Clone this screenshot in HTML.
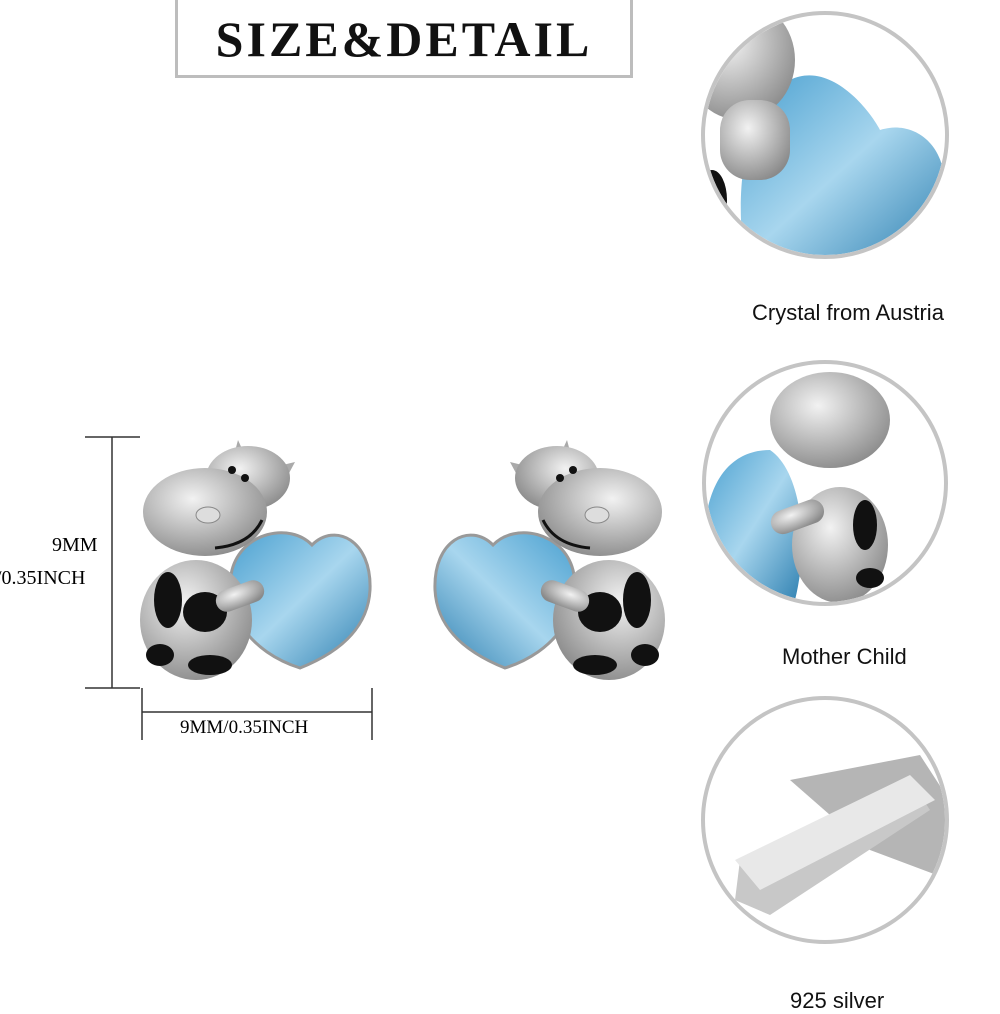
<!DOCTYPE html>
<html><head><style>
body{margin:0;width:1000px;height:1000px;background:#fff;overflow:hidden;position:relative;font-family:"Liberation Sans",sans-serif}
.t{position:absolute;white-space:nowrap}
</style></head><body>
<div style="position:absolute;left:175px;top:-3px;width:458px;height:81px;border:3px solid #bdbdbd;box-sizing:border-box"></div>
<div class="t" style="left:175px;width:458px;top:10px;text-align:center;font-family:'Liberation Serif',serif;font-size:50px;font-weight:bold;letter-spacing:3px;color:#111">SIZE&amp;DETAIL</div>
<svg width="1000" height="1000" style="position:absolute;left:0;top:0">
<defs>
<radialGradient id="g" cx="40%" cy="35%" r="70%"><stop offset="0" stop-color="#f2f2f2"/><stop offset="1" stop-color="#8a8a8a"/></radialGradient>
<linearGradient id="b" x1="0" y1="0" x2="1" y2="1"><stop offset="0" stop-color="#4aa0d0"/><stop offset=".5" stop-color="#a8d6ee"/><stop offset="1" stop-color="#2d7fb0"/></linearGradient>
<clipPath id="c1"><circle cx="825" cy="135" r="120"/></clipPath>
<clipPath id="c2"><circle cx="825" cy="483" r="119"/></clipPath>
<clipPath id="c3"><circle cx="825" cy="820" r="120"/></clipPath>
<g id="cow">
<path d="M300,668 C250,652 222,612 232,570 C242,532 290,522 312,545 C335,522 372,540 370,590 C368,628 340,652 300,668 Z" fill="url(#b)" stroke="#999" stroke-width="3"/>
<ellipse cx="196" cy="620" rx="56" ry="60" fill="url(#g)"/>
<ellipse cx="168" cy="600" rx="14" ry="28" fill="#111"/>
<ellipse cx="205" cy="612" rx="22" ry="20" fill="#111"/>
<ellipse cx="210" cy="665" rx="22" ry="10" fill="#111"/>
<ellipse cx="160" cy="655" rx="14" ry="11" fill="#111"/>
<path d="M230,470 L238,440 L248,462 Z M262,470 L295,462 L280,490 Z" fill="#aaa"/>
<ellipse cx="248" cy="478" rx="42" ry="32" fill="url(#g)"/>
<ellipse cx="205" cy="512" rx="62" ry="44" fill="url(#g)"/>
<circle cx="232" cy="470" r="4" fill="#111"/><circle cx="245" cy="478" r="4" fill="#111"/>
<path d="M215,548 Q250,545 262,520" stroke="#111" stroke-width="3" fill="none"/>
<ellipse cx="208" cy="515" rx="12" ry="8" fill="#ddd" stroke="#888"/>
<rect x="215" y="585" width="50" height="22" rx="11" fill="url(#g)" transform="rotate(-20 240 596)"/>
</g>
</defs>
<use href="#cow"/>
<use href="#cow" transform="translate(805,0) scale(-1,1)"/>
<g stroke="#333" stroke-width="1.5">
<line x1="112" y1="437" x2="112" y2="688"/><line x1="85" y1="437" x2="140" y2="437"/><line x1="85" y1="688" x2="140" y2="688"/>
<line x1="142" y1="712" x2="372" y2="712"/><line x1="142" y1="688" x2="142" y2="740"/><line x1="372" y1="688" x2="372" y2="740"/>
</g>
<g clip-path="url(#c1)">
<path d="M745,260 C735,200 740,110 790,80 C830,60 870,110 880,130 C910,120 950,140 945,200 C930,240 850,270 745,260Z" fill="url(#b)"/>
<ellipse cx="740" cy="60" rx="55" ry="60" fill="url(#g)"/>
<rect x="720" y="100" width="70" height="80" rx="30" fill="url(#g)"/>
<ellipse cx="712" cy="200" rx="15" ry="30" fill="#111"/>
</g>
<g clip-path="url(#c2)">
<path d="M705,560 C700,500 720,450 770,450 C800,470 810,540 795,600 C760,610 715,600 705,560Z" fill="url(#b)"/>
<ellipse cx="830" cy="420" rx="60" ry="48" fill="url(#g)"/>
<ellipse cx="840" cy="545" rx="48" ry="58" fill="url(#g)"/>
<rect x="770" y="505" width="55" height="24" rx="12" fill="url(#g)" transform="rotate(-20 797 517)"/>
<ellipse cx="865" cy="525" rx="12" ry="25" fill="#111"/><ellipse cx="870" cy="578" rx="14" ry="10" fill="#111"/>
</g>
<g clip-path="url(#c3)">
<path d="M790,780 L920,755 L975,840 L950,880 L870,850 Z" fill="#b5b5b5"/>
<path d="M735,900 L740,860 L910,780 L930,810 L770,915 Z" fill="#c8c8c8"/>
<path d="M735,860 L910,775 L935,800 L760,890 Z" fill="#e8e8e8"/>
</g>
<g fill="none" stroke="#c4c4c4" stroke-width="4">
<circle cx="825" cy="135" r="122"/><circle cx="825" cy="483" r="121"/><circle cx="825" cy="820" r="122"/>
</g>
</svg>
<div class="t" style="left:52px;top:534px;font-family:'Liberation Serif',serif;font-size:20px">9MM</div>
<div class="t" style="left:-4px;top:567px;font-family:'Liberation Serif',serif;font-size:20px">/0.35INCH</div>
<div class="t" style="left:180px;top:717px;font-family:'Liberation Serif',serif;font-size:19px">9MM/0.35INCH</div>
<div class="t" style="left:752px;top:300px;font-size:22px;color:#111">Crystal from Austria</div>
<div class="t" style="left:782px;top:644px;font-size:22px;color:#111">Mother Child</div>
<div class="t" style="left:790px;top:988px;font-size:22px;color:#111">925 silver</div>
</body></html>
